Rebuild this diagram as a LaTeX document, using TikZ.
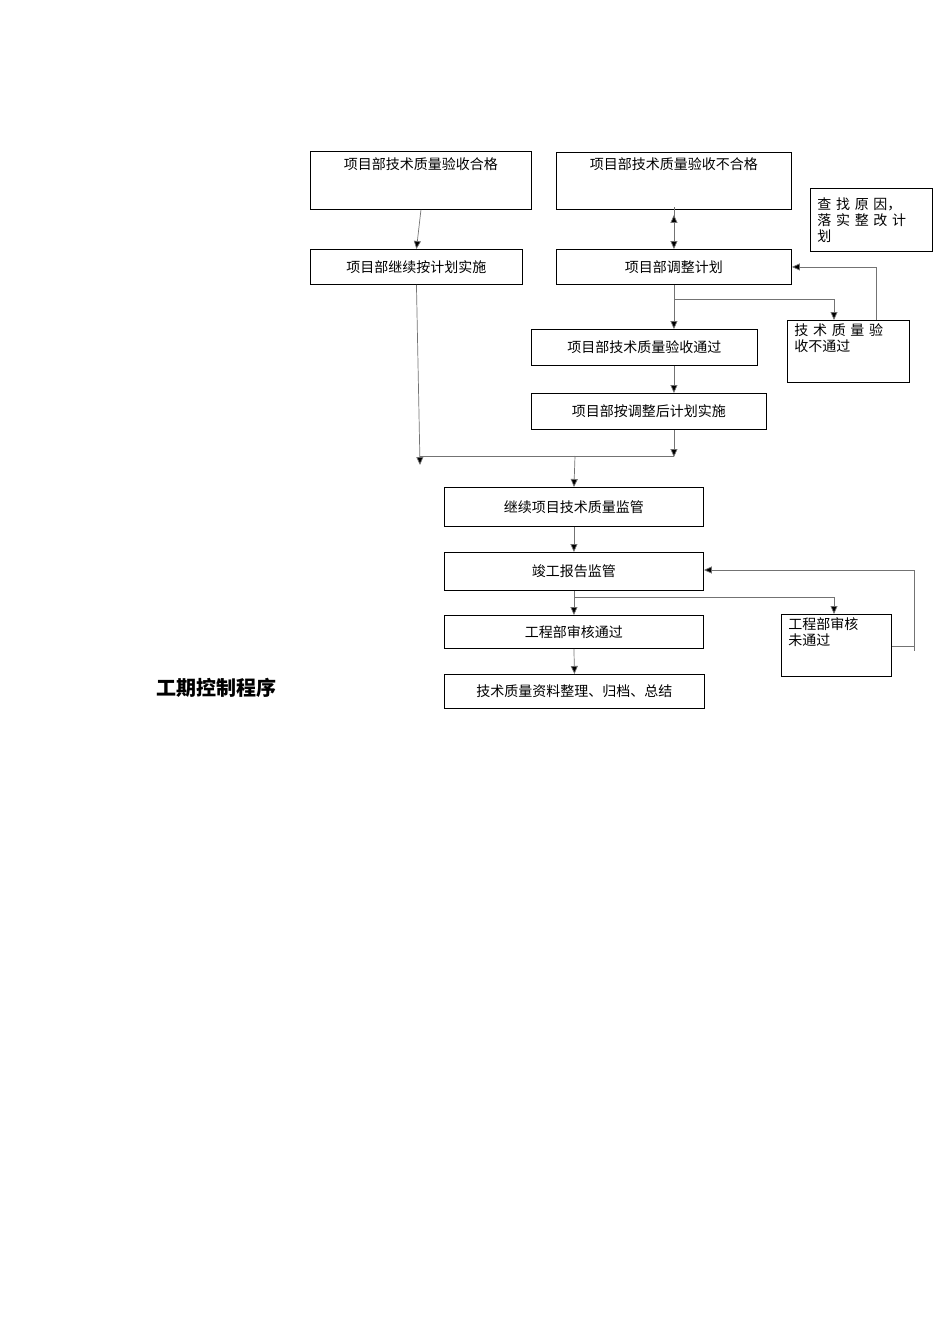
\documentclass[tikz,border=0pt]{standalone}
\usepackage{fontspec}
\setmainfont{Noto Sans CJK SC}
\usetikzlibrary{arrows.meta,positioning,calc}
\begin{document}
\begin{tikzpicture}[x=1pt,y=-1pt,
  box/.style={draw,line width=0.9pt,anchor=north west,inner sep=3pt,font=\fontsize{14}{16}\selectfont},
  lbox/.style={box,align=left},
  link/.style={draw=black!55,line width=0.7pt},
  arr/.style={link,-{Triangle[length=8pt,width=7pt,fill=black]}}]
\useasboundingbox (0,0) rectangle (950,1344);

\node[font=\fontsize{20}{22}\selectfont\bfseries] (title) at (216,688) {工期控制程序};

\node[box,minimum width=221,minimum height=58,align=center] (A) at (310,151) {项目部技术质量验收合格\\[18pt]\mbox{}};
\node[box,minimum width=235,minimum height=57,align=center] (B) at (556,152) {项目部技术质量验收不合格\\[18pt]\mbox{}};
\node[lbox,minimum width=122,minimum height=63,text width=108] (C) at (810,188) {查 找 原 因，\\落 实 整 改 计\\划};
\node[box,minimum width=212,minimum height=35] (D) at (310,249) {项目部继续按计划实施};
\node[box,minimum width=235,minimum height=35] (E) at (556,249) {项目部调整计划};
\node[lbox,minimum width=122,minimum height=59,text width=108,anchor=north west] (F) at (787,320) {技 术 质 量 验\\收不通过\\[12pt]\mbox{}};
\node[box,minimum width=226,minimum height=36] (G) at (531,329) {项目部技术质量验收通过};
\node[box,minimum width=235,minimum height=36] (H) at (531,393) {项目部按调整后计划实施};
\node[box,minimum width=259,minimum height=39] (I) at (444,487) {继续项目技术质量监管};
\node[box,minimum width=259,minimum height=38] (J) at (444,552) {竣工报告监管};
\node[box,minimum width=259,minimum height=33] (K) at (444,615) {工程部审核通过};
\node[lbox,minimum width=110,minimum height=61,text width=96] (L) at (781,614) {工程部审核\\未通过\\[12pt]\mbox{}};
\node[box,minimum width=260,minimum height=34] (M) at (444,674) {技术质量资料整理、归档、总结};

\coordinate (dfree) at (420,465);
\coordinate (join) at (575,456);

% top part
\draw[arr] (A.south) -- (D.north);
\draw[arr] (B.south -| E.north) -- (E.north);
\draw[arr] ($(B.south -| E.north)+(0,5)$) -- ($(B.south -| E.north)+(0,5)$ -| C.west);
\draw[arr] (E.south) -- (E.south |- G.north);
\draw[arr] ($(E.south)+(0,14)$) -| (F.north -| 834,0);
\draw[arr] (876,320) |- (E.east);
\draw[arr] (E.south |- G.south) -- (E.south |- H.north);
\draw[arr] (D.south) -- (dfree);
\draw[arr] (E.south |- H.south) -- (E.south |- 0,457);
\draw[link] (420,456) -- (E.south |- 0,456);
\draw[arr] (join) -- (I.north);
% lower part
\draw[arr] (I.south) -- (J.north);
\draw[arr] (J.south) -- (K.north);
\draw[arr] ($(J.south)+(0,6)$) -| (L.north -| 834,0);
\draw[arr] (L.east |- 0,646) -| (914,570) -- (J.east |- 0,570);
\draw[link] (914,646) -- (914,651);
\draw[arr] (K.south) -- (M.north);
\end{tikzpicture}
\end{document}
